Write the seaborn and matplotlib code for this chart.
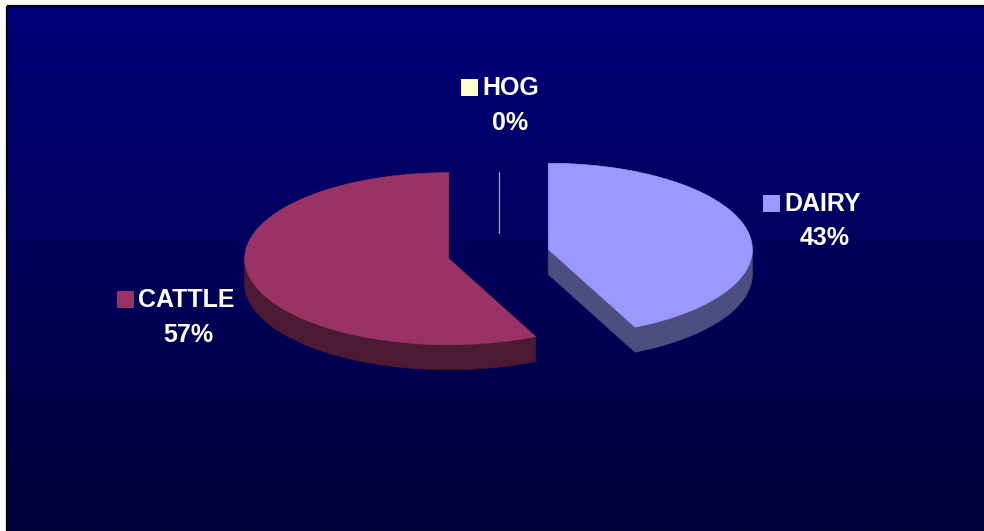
import numpy as np
import matplotlib
matplotlib.use("Agg")
import matplotlib.pyplot as plt
from matplotlib.patches import Polygon, Rectangle
import seaborn as sns

# ---- data ----
categories = ["HOG", "DAIRY", "CATTLE"]
shares = [0, 43, 57]                       # percent of total
label_text = ["0%", "43%", "57%"]
top_colors = ["#FFFFCC", "#9999FF", "#993366"]
side_colors = ["#80806A", "#4D4D80", "#4D1A33"]

sns.set_theme(style="white")
plt.rcParams["font.family"] = ["Liberation Sans", "DejaVu Sans"]

W, H = 984, 531
fig = plt.figure(figsize=(W / 100, H / 100), dpi=100, facecolor="white")
ax = fig.add_axes([0, 0, 1, 1])
ax.set_xlim(0, W)
ax.set_ylim(H, 0)
ax.axis("off")

# ---- gradient backdrop and frame ----
x0, y0 = 7, 6
grad = np.linspace(0, 1, 256)[:, None]
top_rgb = np.array([0, 0, 0x7A]) / 255
bot_rgb = np.array([0, 0, 0x3A]) / 255
img = top_rgb[None, None, :] * (1 - grad[..., None]) + bot_rgb[None, None, :] * grad[..., None]
img = np.repeat(img, 2, axis=1)
ax.imshow(img, extent=(x0, W, H, y0), aspect="auto", zorder=0, interpolation="bilinear")
ax.plot([x0 - 0.5, x0 - 0.5], [y0 - 0.5, H], color="black", lw=1.6, zorder=1, solid_capstyle="butt")
ax.plot([x0 - 0.5, W], [y0 - 0.5, y0 - 0.5], color="black", lw=1.6, zorder=1, solid_capstyle="butt")

# ---- 3D pie geometry ----
cx, cy = 498.5, 254.0     # pie centre on screen
rx, ry = 204.0, 86.0      # top ellipse radii
depth = 25.0              # slab thickness
explode = 0.25            # radial offset as fraction of radius


def rim(c, theta_deg, dz=0.0):
    t = np.radians(theta_deg)
    return np.column_stack([c[0] + rx * np.cos(t), c[1] - ry * np.sin(t) + dz])


fracs = np.array(shares, dtype=float) / np.sum(shares)
starts = 90 - 360 * np.concatenate([[0], np.cumsum(fracs)[:-1]])
ends = starts - 360 * fracs

sides, tops = [], []
centres = []
for i, (hi, lo) in enumerate(zip(starts, ends)):
    mid = np.radians((hi + lo) / 2)
    c = (cx + explode * rx * np.cos(mid), cy - explode * ry * np.sin(mid))
    centres.append(c)
    if fracs[i] == 0:
        continue
    ang = np.linspace(hi, lo, 400)
    # outer wall on the front half of the ellipse
    front = np.sin(np.radians(ang)) <= 0
    if front.any():
        seg = ang[front]
        upper = rim(c, seg)
        lower = rim(c, seg[::-1], depth)
        sides.append((np.vstack([upper, lower]), side_colors[i]))
    # radial cut faces turned toward the viewer
    for edge, visible in ((hi, np.cos(np.radians(hi)) < -1e-9),
                          (lo, np.cos(np.radians(lo)) > 1e-9)):
        if visible:
            p = rim(c, [edge])[0]
            quad = [c, p, (p[0], p[1] + depth), (c[0], c[1] + depth)]
            sides.append((np.array(quad), side_colors[i]))
    top = np.vstack([[c], rim(c, ang)])
    tops.append((top, top_colors[i]))

for pts, col in sides:
    ax.add_patch(Polygon(pts, closed=True, facecolor=col, edgecolor=col, lw=0.5, zorder=2))
for pts, col in tops:
    ax.add_patch(Polygon(pts, closed=True, facecolor=col, edgecolor=col, lw=0.5, zorder=3))

# zero-share slice shows as a hairline
for i, f in enumerate(fracs):
    if f == 0:
        c = centres[i]
        p = rim(c, [starts[i]], depth)[0]
        ax.plot([c[0], p[0]], [c[1], p[1]], color="#9C9CA8", lw=1.0, zorder=4)

# ---- data labels with legend keys ----
label_pos = {
    "HOG": (482, 95, 510.5, 130),
    "DAIRY": (784, 211, 825, 245),
    "CATTLE": (138, 307, 188, 342),
}
key = 17.5
for name, pct, col in zip(categories, label_text, top_colors):
    tx, ty, px, py = label_pos[name]
    ax.add_patch(Rectangle((tx - key - 4, ty - key + 1), key, key,
                           facecolor=col, edgecolor="none", zorder=5))
    ax.text(tx, ty, name, color="white", fontsize=18, fontweight="bold",
            ha="left", va="baseline", zorder=5)
    ax.text(px, py, pct, color="white", fontsize=18, fontweight="bold",
            ha="center", va="baseline", zorder=5)

fig.savefig("out.png", dpi=100, facecolor="white")
